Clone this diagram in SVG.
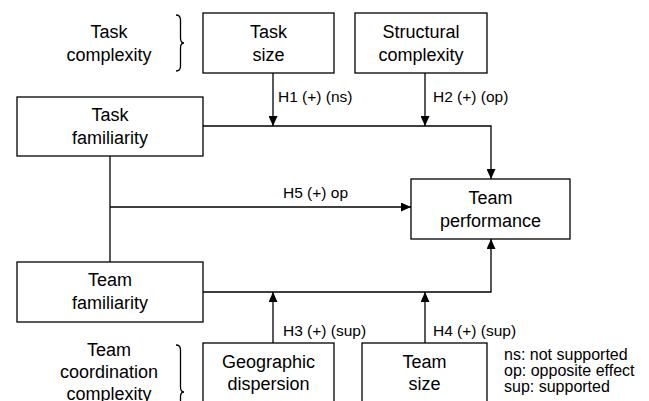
<svg xmlns="http://www.w3.org/2000/svg" width="649" height="401" viewBox="0 0 649 401">
<defs>
<marker id="ah" viewBox="0 0 10 9" refX="10" refY="4.5" markerWidth="10" markerHeight="9" markerUnits="userSpaceOnUse" orient="auto">
<path d="M0,0 L10,4.5 L0,9 z" fill="#000"/>
</marker>
<style>
.box{fill:#fff;stroke:#000;stroke-width:1.3}
.t{font-family:"Liberation Sans",Arial,sans-serif;font-size:18px;fill:#000;text-anchor:middle}
.l{font-family:"Liberation Sans",Arial,sans-serif;font-size:15.5px;fill:#000}
.lg{font-family:"Liberation Sans",Arial,sans-serif;font-size:16px;fill:#000}
.ln{fill:none;stroke:#000;stroke-width:1.3}
.arr{fill:none;stroke:#000;stroke-width:1.3;marker-end:url(#ah)}
</style>
</defs>
<rect width="649" height="401" fill="#fff"/>
<g id="connectors">
<line class="arr" x1="273" y1="73" x2="273" y2="126"/>
<line class="arr" x1="425" y1="73" x2="425" y2="126"/>
<polyline class="arr" points="203,126 491,126 491,179"/>
<line class="ln" x1="110" y1="156" x2="110" y2="262"/>
<line class="arr" x1="110" y1="207" x2="411" y2="207"/>
<polyline class="arr" points="203,292 491,292 491,239"/>
<line class="arr" x1="273" y1="343" x2="273" y2="292"/>
<line class="arr" x1="425" y1="343" x2="425" y2="292"/>
<text class="l" x="278" y="102">H1 (+) (ns)</text>
<text class="l" x="433" y="102">H2 (+) (op)</text>
<text class="l" x="283" y="198">H5 (+) op</text>
<text class="l" x="283" y="336">H3 (+) (sup)</text>
<text class="l" x="433" y="336">H4 (+) (sup)</text>
</g>
<g id="task-complexity">
<text class="t" x="109" y="37.5">Task</text>
<text class="t" x="109" y="60.5">complexity</text>
<path class="ln" d="M176,15 Q180.5,15 180.5,20 L180.5,38 Q180.5,43 184,43 Q180.5,43 180.5,48 L180.5,66 Q180.5,71 176,71"/>
</g>
<g id="task-size">
<rect class="box" x="203" y="13" width="131" height="60"/>
<text class="t" x="268.5" y="37.5">Task</text>
<text class="t" x="268.5" y="60.5">size</text>
</g>
<g id="structural-complexity">
<rect class="box" x="355" y="13" width="132" height="60"/>
<text class="t" x="421" y="37.5">Structural</text>
<text class="t" x="421" y="60.5">complexity</text>
</g>
<g id="task-familiarity">
<rect class="box" x="17" y="97" width="186" height="59"/>
<text class="t" x="110" y="120.5">Task</text>
<text class="t" x="110" y="143.5">familiarity</text>
</g>
<g id="team-performance">
<rect class="box" x="411" y="179" width="159" height="60"/>
<text class="t" x="490.5" y="204">Team</text>
<text class="t" x="490.5" y="227">performance</text>
</g>
<g id="team-familiarity">
<rect class="box" x="17" y="262" width="186" height="60"/>
<text class="t" x="110" y="286">Team</text>
<text class="t" x="110" y="309">familiarity</text>
</g>
<g id="team-coordination-complexity">
<text class="t" x="109" y="356">Team</text>
<text class="t" x="109" y="378">coordination</text>
<text class="t" x="109" y="400">complexity</text>
<path class="ln" d="M176,345 Q180.5,345 180.5,350 L180.5,387 Q180.5,392 184,392 Q180.5,392 180.5,397 L180.5,434 Q180.5,439 176,439"/>
</g>
<g id="geographic-dispersion">
<rect class="box" x="203" y="343" width="131" height="80"/>
<text class="t" x="268.5" y="368">Geographic</text>
<text class="t" x="268.5" y="390">dispersion</text>
</g>
<g id="team-size">
<rect class="box" x="362" y="343" width="125" height="80"/>
<text class="t" x="424.5" y="368">Team</text>
<text class="t" x="424.5" y="390">size</text>
</g>
<g id="legend">
<text class="lg" x="504" y="360">ns: not supported</text>
<text class="lg" x="504" y="376">op: opposite effect</text>
<text class="lg" x="504" y="392">sup: supported</text>
</g>
</svg>
